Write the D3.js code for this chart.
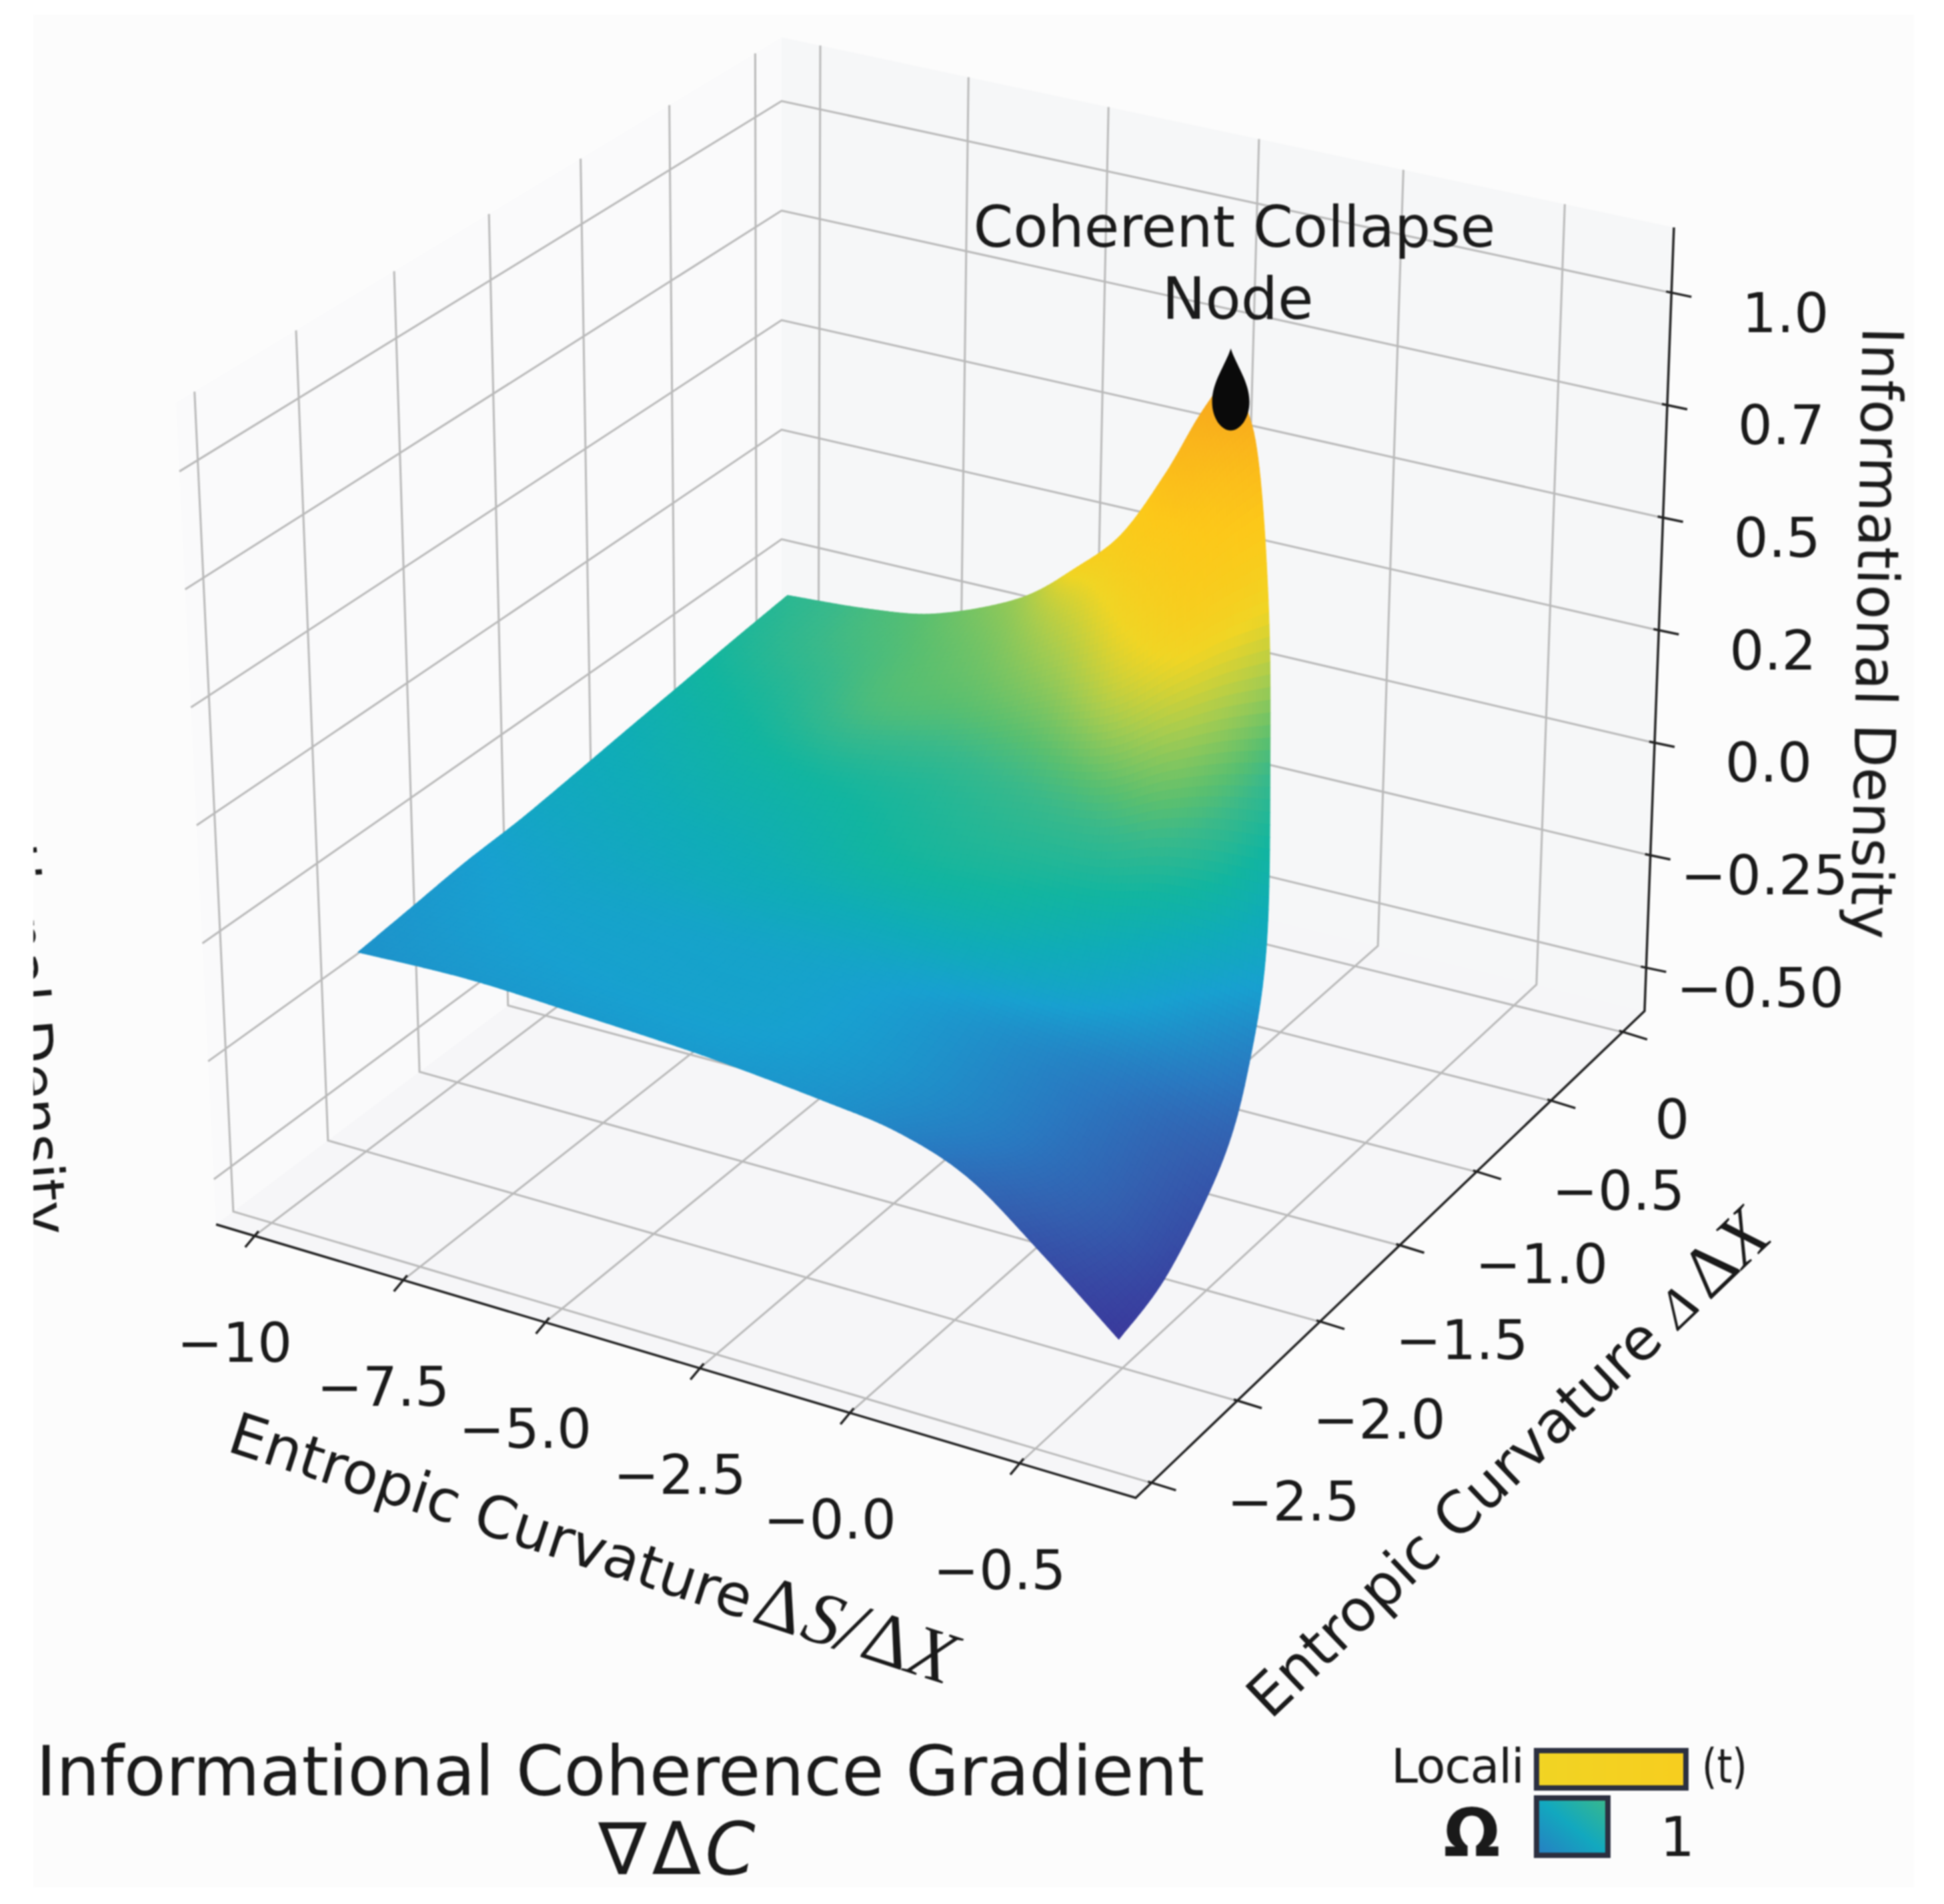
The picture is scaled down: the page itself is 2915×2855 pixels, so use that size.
<!DOCTYPE html><html><head><meta charset="utf-8"><script src="https://cdn.jsdelivr.net/npm/d3@7"></script><style>html,body{margin:0;background:#fff}svg{display:block;filter:blur(1.1px)}text{font-family:"DejaVu Sans";fill:#1a1a1a}</style></head><body><svg id="chart" width="2915" height="2855"></svg><script>
// ---------- data ----------
const xTicks=[-9.92,-7.34,-4.94,-2.4,0,2.64];
const xLabels=["\u221210","\u22127.5","\u22125.0","\u22122.5","\u22120.0","\u22120.5"];
const yTicks=[0.475,-0.025,-0.525,-1.025,-1.525,-2.025,-2.525];
const yLabels=["","0","\u22120.5","\u22121.0","\u22121.5","\u22122.0","\u22122.5"];
const zTicks=[1,0.75,0.5,0.25,0,-0.25,-0.5];
const zLabels=["1.0","0.7","0.5","0.2","0.0","\u22120.25","\u22120.50"];
const surfaceY=[-1.965,-1.64,-1.316,-0.99,-0.667,-0.342,-0.018,0.307,0.632];
const surfaceX=[
[-10.14,-8.23,-6.29,-4.28,-2.30,-1.07,0.05,1.21,2.42],
[-10.26,-8.32,-6.39,-4.37,-2.44,-0.66,0.44,1.41,2.33],
[-10.36,-8.38,-6.43,-4.38,-2.49,-0.75,0.38,1.39,2.34],
[-10.42,-8.47,-6.58,-4.57,-2.76,-1.12,0.00,0.99,1.92],
[-10.47,-8.57,-6.76,-4.81,-3.11,-1.60,-0.50,0.44,1.33],
[-10.51,-8.69,-6.98,-5.12,-3.57,-2.20,-1.18,-0.31,0.51],
[-10.52,-8.79,-7.21,-5.44,-4.06,-2.87,-1.91,-1.13,-0.40],
[-10.52,-8.90,-7.47,-5.84,-4.65,-3.65,-2.80,-2.12,-1.50],
[-10.49,-9.03,-7.78,-6.31,-5.32,-4.55,-3.83,-3.29,-2.80]];
const surfaceZ=[
[-0.193,-0.186,-0.197,-0.212,-0.238,-0.262,-0.317,-0.432,-0.564],
[-0.194,-0.192,-0.218,-0.235,-0.260,-0.312,-0.372,-0.453,-0.534],
[-0.192,-0.189,-0.209,-0.213,-0.229,-0.264,-0.287,-0.339,-0.395],
[-0.192,-0.193,-0.211,-0.208,-0.211,-0.230,-0.230,-0.257,-0.292],
[-0.184,-0.187,-0.202,-0.189,-0.176,-0.178,-0.153,-0.151,-0.163],
[-0.173,-0.165,-0.163,-0.126,-0.086,-0.056,0.009,0.051,0.077],
[-0.159,-0.138,-0.116,-0.054,0.018,0.082,0.189,0.276,0.342],
[-0.143,-0.113,-0.076,0.008,0.107,0.202,0.346,0.475,0.577],
[-0.125,-0.113,-0.087,-0.008,0.092,0.191,0.348,0.492,0.605]];
const surfaceC=[
[0.30,0.32,0.33,0.33,0.30,0.24,0.16,0.07,0.00],
[0.32,0.35,0.36,0.36,0.32,0.24,0.17,0.11,0.04],
[0.34,0.38,0.38,0.38,0.34,0.27,0.22,0.16,0.11],
[0.39,0.42,0.44,0.45,0.45,0.41,0.37,0.30,0.23],
[0.43,0.46,0.48,0.52,0.53,0.51,0.50,0.47,0.42],
[0.46,0.50,0.53,0.56,0.60,0.64,0.68,0.66,0.60],
[0.50,0.55,0.62,0.65,0.71,0.80,0.86,0.87,0.86],
[0.54,0.60,0.64,0.70,0.80,0.88,0.92,0.94,0.96],
[0.57,0.62,0.66,0.74,0.87,0.90,0.94,0.97,1.00]];
const peak={x:-2.753,y:0.632,z:0.55,label:["Coherent Collapse","Node"]};
const colorStops=[0,0.12,0.2,0.35,0.45,0.52,0.6,0.65,0.75,0.85,0.92,1];
const colorValues=["#3a3a9c","#3460b0","#2a78c0","#18a0d0","#10acb8","#12b5a0","#3ab98a","#5abf70","#a6cc50","#f0d525","#fcc81a","#f7a01e"];
// ---------- projection ----------
const xS=d3.scaleLinear([-10.6,4.4],[0,1]),yS=d3.scaleLinear([-2.614,0.632],[0,1]),zS=d3.scaleLinear([-0.5,1],[0.055,0.9165]);
const color=d3.scaleLinear(colorStops,colorValues).interpolate(d3.interpolateRgb);
const cL=[324,1836],cF=[1703,2246],cR=[2466,1516],cB=[1172,1200],tL=[264,604],tF=[1715,953],tR=[2510,341],tB=[1172,56];
function hom(q){const[p0,p1,p2,p3]=q,dx1=p1[0]-p2[0],dx2=p3[0]-p2[0],sx=p0[0]-p1[0]+p2[0]-p3[0],dy1=p1[1]-p2[1],dy2=p3[1]-p2[1],sy=p0[1]-p1[1]+p2[1]-p3[1],d=dx1*dy2-dx2*dy1,g=(sx*dy2-dx2*sy)/d,h=(dx1*sy-sx*dy1)/d,a=p1[0]-p0[0]+g*p1[0],b=p3[0]-p0[0]+h*p3[0],c=p0[0],e=p1[1]-p0[1]+g*p1[1],f=p3[1]-p0[1]+h*p3[1],k=p0[1];return(u,v)=>{const w=g*u+h*v+1;return[(a*u+b*v+c)/w,(e*u+f*v+k)/w]}}
const hF=hom([cL,cF,cR,cB]),hT=hom([tL,tF,tR,tB]);
function uvw(u,v,w){const a=hF(u,v),b=hT(u,v);return[a[0]+(b[0]-a[0])*w,a[1]+(b[1]-a[1])*w]}
const P=(x,y,z)=>uvw(xS(x),yS(y),zS(z));
const xMin=xS.domain()[0],xMax=xS.domain()[1],yMin=yS.domain()[0],yMax=yS.domain()[1];
const zBottom=zS.invert(0),zTop=zS.invert(1);
const svg=d3.select("#chart");
const line=d3.line();
// panel
svg.append("rect").attr("x",50).attr("y",22).attr("width",2820).attr("height",2808).attr("fill","#fcfcfc");
svg.append("clipPath").attr("id","panel").append("rect").attr("x",50).attr("y",22).attr("width",2820).attr("height",2808);
// walls
const walls=svg.append("g");
walls.append("path").attr("d",line([P(xMin,yMin,zBottom),P(xMin,yMin,zTop),P(xMin,yMax,zTop),P(xMin,yMax,zBottom)])+"Z").attr("fill","#fafafb");
walls.append("path").attr("d",line([P(xMin,yMax,zBottom),P(xMin,yMax,zTop),P(xMax,yMax,zTop),P(xMax,yMax,zBottom)])+"Z").attr("fill","#f6f7f8");
walls.append("path").attr("d",line([P(xMin,yMin,zBottom),P(xMax,yMin,zBottom),P(xMax,yMax,zBottom),P(xMin,yMax,zBottom)])+"Z").attr("fill","#f6f6f8");
// grid
const grid=svg.append("g").attr("fill","none").attr("stroke","#b9b9b9").attr("stroke-width",3);
zTicks.forEach(z=>grid.append("path").attr("d",line([P(xMin,yMin,z),P(xMin,yMax,z),P(xMax,yMax,z)])));
xTicks.forEach(x=>grid.append("path").attr("d",line([P(x,yMin,zBottom),P(x,yMax,zBottom),P(x,yMax,zTop)])));
yTicks.forEach(y=>grid.append("path").attr("d",line([P(xMax,y,zBottom),P(xMin,y,zBottom),P(xMin,y,zTop)])));
// axes
const axes=svg.append("g").attr("fill","none").attr("stroke","#222").attr("stroke-width",3.5);
axes.append("path").attr("d",line([P(xMin,yMin,zBottom),P(xMax,yMin,zBottom),P(xMax,yMax,zBottom),P(xMax,yMax,zTop)]));
const txt=svg.append("g");
xTicks.forEach((x,i)=>{const p=P(x,yMin,zBottom);axes.append("path").attr("d",line([[p[0]+6,p[1]-7],[p[0]-14,p[1]+17]]));
 txt.append("text").attr("x",p[0]-30).attr("y",p[1]+160).attr("text-anchor","middle").attr("dominant-baseline","central").attr("font-size",82).text(xLabels[i])});
yTicks.forEach((y,i)=>{const p=P(xMax,y,zBottom);axes.append("path").attr("d",line([[p[0]-5,p[1]-2],[p[0]+37,p[1]+11]]));
 txt.append("text").attr("x",p[0]+(i==1?182:213)).attr("y",p[1]+28).attr("text-anchor","middle").attr("dominant-baseline","central").attr("font-size",82).text(yLabels[i])});
zTicks.forEach((z,i)=>{const p=P(xMax,yMax,z);axes.append("path").attr("d",line([[p[0]-8,p[1]-2],[p[0]+30,p[1]+6]]));
 txt.append("text").attr("x",p[0]+171).attr("y",p[1]+30).attr("text-anchor","middle").attr("dominant-baseline","central").attr("font-size",82).text(zLabels[i])});
// surface: smooth the read grid with Catmull-Rom for drawing
function cr(a,b,c,d,t){return 0.5*(2*b+(c-a)*t+(2*a-5*b+4*c-d)*t*t+(3*b-a-3*c+d)*t*t*t)}
function sample(G,s,t){const n=G.length-1,m=G[0].length-1,j=Math.min(Math.floor(t),n-1),i=Math.min(Math.floor(s),m-1),ft=t-j,fs=s-i;
 const r=k=>{const R=G[Math.max(0,Math.min(n,k))];return cr(R[Math.max(0,i-1)],R[i],R[i+1],R[Math.min(m,i+2)],fs)};
 return cr(r(j-1),r(j),r(j+1),r(j+2),ft)}
const Ym=surfaceY.map(y=>surfaceY.map(()=>y));
const N=112,gS=svg.append("g");
const pts=d3.range(N+1).map(j=>d3.range(N+1).map(i=>{const s=i/N*8,t=j/N*8;return P(sample(surfaceX,s,t),sample(Ym,s,t),sample(surfaceZ,s,t))}));
const cells=[];for(let j=N-1;j>=0;j--)for(let i=0;i<N;i++){const v=Math.max(0,Math.min(1,sample(surfaceC,(i+.5)/N*8,(j+.5)/N*8)));cells.push({d:[pts[j][i],pts[j][i+1],pts[j+1][i+1],pts[j+1][i]],c:color(v)})}
gS.selectAll("path").data(cells).join("path").attr("d",c=>line(c.d)+"Z").attr("fill",c=>c.c).attr("stroke",c=>c.c).attr("stroke-width",1.2);
// peak marker
const mp=P(peak.x,peak.y,peak.z);
const drop=d3.path();drop.moveTo(0,-75);drop.bezierCurveTo(8,-50,28,-25,28,5);drop.bezierCurveTo(28,30,14,48,0,48);drop.bezierCurveTo(-14,48,-28,30,-28,5);drop.bezierCurveTo(-28,-25,-8,-50,0,-75);drop.closePath();
svg.append("path").attr("transform",`translate(${mp})`).attr("d",drop.toString()).attr("fill","#0a0a0a");
txt.append("text").attr("x",1851).attr("y",370).attr("text-anchor","middle").attr("font-size",85.5).text(peak.label[0]);
txt.append("text").attr("x",1856).attr("y",478).attr("text-anchor","middle").attr("font-size",87).text(peak.label[1]);
// titles
const mathF='"Liberation Serif"';
let t=txt.append("text").attr("transform","translate(338,2175) rotate(18)").attr("font-size",87).text("Entropic Curvature");
t.append("tspan").attr("font-family",mathF).attr("font-size",112).attr("dx",8).text("\u0394");
t.append("tspan").attr("font-family",mathF).attr("font-style","italic").attr("font-size",112).attr("dx",4).text("S/");
t.append("tspan").attr("font-family",mathF).attr("font-size",112).attr("dx",6).text("\u0394");
t.append("tspan").attr("font-family",mathF).attr("font-style","italic").attr("font-size",112).text("X");
t=txt.append("text").attr("transform","translate(1905,2580) rotate(-43.7)").attr("font-size",87).text("Entropic Curvature ");
t.append("tspan").attr("font-family",mathF).attr("font-style","italic").attr("font-size",80).text("\u0394");
t.append("tspan").attr("font-family",mathF).attr("font-size",108).attr("dx",16).text("\u0394");
t.append("tspan").attr("font-family",mathF).attr("font-style","italic").attr("font-size",108).text("X");
txt.append("text").attr("transform","translate(2793,490) rotate(91.1)").attr("font-size",85).text("Informational Density");
svg.append("g").attr("clip-path","url(#panel)").append("text").attr("transform","translate(42,1854) rotate(85.4)").attr("text-anchor","end").attr("font-size",85).text("Informational Density");
txt.append("text").attr("x",54).attr("y",2692).attr("font-size",103).attr("textLength",1752).text("Informational Coherence Gradient");
t=txt.append("text").attr("x",1015).attr("y",2810).attr("text-anchor","middle").attr("font-family",mathF).attr("font-size",108);
t.append("tspan").text("\u2207");t.append("tspan").attr("dx",8).text("\u0394");t.append("tspan").attr("dx",6).attr("font-style","italic").text("C");
// legend
const defs=svg.append("defs");
const gy=defs.append("linearGradient").attr("id","ly").attr("x1",0).attr("x2",1);gy.append("stop").attr("offset",0).attr("stop-color",color(.855));gy.append("stop").attr("offset",1).attr("stop-color",color(.89));
const gb=defs.append("linearGradient").attr("id","lb").attr("x1",0).attr("y1",1).attr("x2",1).attr("y2",0);
[[0,.22],[.5,.42],[1,.6]].forEach(([o,c])=>gb.append("stop").attr("offset",o).attr("stop-color",color(c)));
svg.append("rect").attr("x",2304).attr("y",2625).attr("width",224).attr("height",56).attr("fill","url(#ly)").attr("stroke","#2c3040").attr("stroke-width",8);
svg.append("rect").attr("x",2304).attr("y",2696).attr("width",107).attr("height",86).attr("fill","url(#lb)").attr("stroke","#2c3040").attr("stroke-width",8);
txt.append("text").attr("x",2086).attr("y",2673).attr("font-size",72).attr("textLength",200).text("Locali");
txt.append("text").attr("x",2552).attr("y",2673).attr("font-size",72).attr("textLength",68).attr("lengthAdjust","spacingAndGlyphs").text("(t)");
txt.append("text").attr("x",2207).attr("y",2783).attr("text-anchor","middle").attr("font-family",mathF).attr("font-weight","bold").attr("font-size",100).text("\u03a9");
txt.append("text").attr("x",2515).attr("y",2783).attr("text-anchor","middle").attr("font-size",82).text("1");
</script></body></html>
